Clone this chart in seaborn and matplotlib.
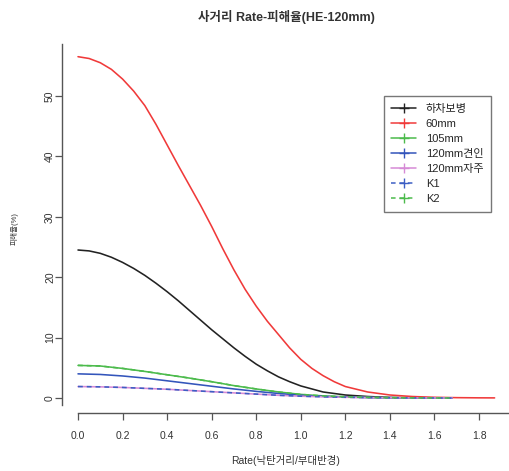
import pandas as pd
import matplotlib.pyplot as plt
import seaborn as sns
from matplotlib.lines import Line2D

# Data
x_60mm = [0.0, 0.05, 0.1, 0.15, 0.2, 0.25, 0.3, 0.35, 0.4, 0.45, 0.5, 0.55, 0.6,
          0.65, 0.7, 0.75, 0.8, 0.85, 0.9, 0.95, 1.0, 1.05, 1.1, 1.15, 1.2,
          1.3, 1.4, 1.5, 1.6, 1.7, 1.8, 1.87]
y_60mm = [56.5, 56.2, 55.5, 54.4, 52.8, 50.8, 48.4, 45.3, 41.9, 38.5, 35.2, 31.9, 28.4,
          24.7, 21.2, 18.0, 15.2, 12.7, 10.5, 8.3, 6.4, 4.9, 3.7, 2.7, 1.9,
          1.0, 0.5, 0.25, 0.12, 0.06, 0.03, 0.02]

x_infantry = [0.0, 0.05, 0.1, 0.15, 0.2, 0.25, 0.3, 0.35, 0.4, 0.45, 0.5, 0.55, 0.6,
              0.65, 0.7, 0.75, 0.8, 0.85, 0.9, 0.95, 1.0, 1.1, 1.2,
              1.3, 1.4, 1.5, 1.6, 1.68]
y_infantry = [24.5, 24.35, 23.95, 23.3, 22.45, 21.45, 20.3, 19.0, 17.6, 16.1, 14.5, 12.9, 11.3,
              9.8, 8.3, 6.9, 5.6, 4.5, 3.5, 2.7, 2.0, 1.0, 0.5,
              0.25, 0.1, 0.05, 0.02, 0.01]

x_common = [0.0, 0.1, 0.2, 0.3, 0.4, 0.5, 0.6, 0.7, 0.8, 0.9, 1.0, 1.1, 1.2,
            1.3, 1.4, 1.5, 1.6, 1.68]
y_105mm = [5.4, 5.3, 4.9, 4.4, 3.85, 3.3, 2.7, 2.05, 1.5, 1.0, 0.6, 0.35, 0.2,
           0.1, 0.05, 0.02, 0.01, 0.0]
y_120_towed = [4.0, 3.9, 3.65, 3.3, 2.85, 2.4, 1.95, 1.5, 1.1, 0.75, 0.45, 0.28, 0.15,
               0.08, 0.04, 0.02, 0.01, 0.0]
y_120_sp = [1.9, 1.85, 1.75, 1.6, 1.45, 1.25, 1.05, 0.85, 0.65, 0.45, 0.3, 0.2, 0.12,
            0.07, 0.04, 0.02, 0.01, 0.0]
y_k1 = y_120_sp
y_k2 = y_105mm

x_ticks = [0.0, 0.2, 0.4, 0.6, 0.8, 1.0, 1.2, 1.4, 1.6, 1.8]
y_ticks = [0, 10, 20, 30, 40, 50]

series = [
    ("하차보병", x_infantry, y_infantry, "#222222", "-"),
    ("60mm", x_60mm, y_60mm, "#f03a3a", "-"),
    ("105mm", x_common, y_105mm, "#4cbb4c", "-"),
    ("120mm견인", x_common, y_120_towed, "#3355bb", "-"),
    ("120mm자주", x_common, y_120_sp, "#d68ad6", "-"),
    ("K1", x_common, y_k1, "#3d5fc4", (0, (3, 2.5))),
    ("K2", x_common, y_k2, "#4cbb4c", (0, (3, 2.5))),
]

sns.set_theme(style="white")
plt.rcParams["font.family"] = ["Liberation Sans", "Noto Sans CJK KR", "DejaVu Sans"]

fig = plt.figure(figsize=(5.10, 4.71), dpi=100)
ax = fig.add_axes([62 / 510, 58 / 471, 448 / 510, 369 / 471])

for name, xs, ys, color, ls in series:
    df = pd.DataFrame({"rate": xs, "value": ys})
    sns.lineplot(data=df, x="rate", y="value", ax=ax, color=color,
                 linestyle=ls, linewidth=1.15, legend=False)

ax.set_xlim(-0.0718, 1.939)
ax.set_ylim(-2.48, 58.6)

# R-style detached axes
for side in ["top", "right"]:
    ax.spines[side].set_visible(False)
for side in ["left", "bottom"]:
    ax.spines[side].set_color("#555555")
    ax.spines[side].set_linewidth(1.0)
ax.spines["bottom"].set_bounds(0, 1.939)
ax.spines["left"].set_bounds(-1.2, 58.6)

ax.set_xticks(x_ticks)
ax.set_xticklabels([f"{t:.1f}" for t in x_ticks])
ax.set_yticks(y_ticks)
ax.set_yticklabels([str(t) for t in y_ticks], rotation=90, va="center")
ax.tick_params(axis="both", direction="out", length=5, width=0.9, color="#555555",
               labelsize=7.5, labelcolor="#333333", bottom=True, left=True)
ax.tick_params(axis="x", pad=8)
ax.tick_params(axis="y", pad=0)

ax.set_xlabel("Rate(낙탄거리/부대반경)", fontsize=7.5, color="#333333", labelpad=10)
ax.set_ylabel("피해율(%)", fontsize=5.5, color="#333333", labelpad=19)
fig.text(0.561, 0.964, "사거리 Rate-피해율(HE-120mm)", ha="center", va="center",
         fontsize=9, fontweight="bold", color="#333333")

handles = [Line2D([0], [0], color=c, linestyle=ls, linewidth=1.1, marker="+",
                  markersize=6.5, markeredgewidth=1.0)
           for _, _, _, c, ls in series]
labels = [s[0] for s in series]
leg = ax.legend(handles, labels, loc="upper right", bbox_to_anchor=(0.958, 0.859),
                borderaxespad=0, fontsize=8, frameon=True, fancybox=False,
                handlelength=2.2, handletextpad=0.9, labelspacing=0.45, borderpad=0.7)
leg.get_frame().set_edgecolor("#555555")
leg.get_frame().set_linewidth(1.0)

fig.savefig("out.png", dpi=100)
plt.close()
